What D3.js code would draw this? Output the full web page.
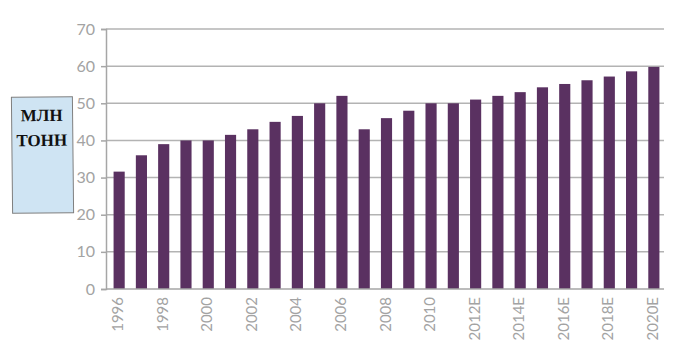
<!DOCTYPE html>
<html lang="ru">
<head>
<meta charset="utf-8">
<title>Млн тонн</title>
<style>
  body { margin: 0; background: #fff; }
  #chart { width: 674px; height: 353px; }
  .axis text { font-family: "Lato", "Open Sans", sans-serif; font-weight: 400; fill: #a3a3a3; }
</style>
</head>
<body>
<div id="chart"></div>
<script src="https://cdn.jsdelivr.net/npm/d3@7"></script>
<script>
// years (E = estimate)
const years = ["1996", "1997", "1998", "1999", "2000", "2001", "2002", "2003", "2004", "2005",
  "2006", "2007", "2008", "2009", "2010", "2011", "2012E", "2013E", "2014E", "2015E",
  "2016E", "2017E", "2018E", "2019E", "2020E"];
const values = [31.6, 36, 39, 40, 40, 41.5, 43, 45, 46.6, 50,
  52, 43, 46, 48, 50, 50, 51, 52, 53, 54.3,
  55.2, 56.2, 57.2, 58.6, 59.8];
const yTicks = [0, 10, 20, 30, 40, 50, 60, 70];
const unitLines = ["МЛН", "ТОНН"];

// set the dimensions
const width = 674, height = 353;
const plotLeft = 106, plotRight = 664, plotTop = 29, plotBottom = 289;

const svg = d3.select("#chart")
  .append("svg")
  .attr("width", width)
  .attr("height", height);

// X scale
const x = d3.scaleBand()
  .domain(years)
  .range([plotLeft + 2, plotRight + 1])
  .paddingInner(0.5)
  .paddingOuter(0.25);

// Y scale
const y = d3.scaleLinear()
  .domain([0, 70])
  .range([plotBottom, plotTop]);

// grid lines
svg.append("g")
  .selectAll("line")
  .data(yTicks.filter(d => d > 0))
  .enter()
  .append("line")
  .attr("x1", plotLeft)
  .attr("x2", plotRight)
  .attr("y1", d => y(d))
  .attr("y2", d => y(d))
  .attr("stroke", "#b3b3b3")
  .attr("stroke-width", 1.5);

// bars
svg.append("g")
  .selectAll("rect")
  .data(values)
  .enter()
  .append("rect")
  .attr("x", (d, i) => x(years[i]))
  .attr("width", x.bandwidth())
  .attr("y", d => y(d))
  .attr("height", d => y(0) - y(d))
  .attr("fill", "#5a3161");

// Y axis
const yAxis = svg.append("g")
  .attr("class", "axis")
  .attr("transform", "translate(" + plotLeft + ",0)")
  .call(d3.axisLeft(y).tickValues(yTicks).tickSize(5).tickPadding(6));
yAxis.select(".domain").attr("stroke", "#a6a6a6").attr("stroke-width", 1.5);
yAxis.selectAll(".tick line").attr("stroke", "#a6a6a6").attr("stroke-width", 1.5);
yAxis.selectAll("text").style("font-size", "16px");

// X axis
svg.append("line")
  .attr("x1", plotLeft)
  .attr("x2", plotRight)
  .attr("y1", y(0))
  .attr("y2", y(0))
  .attr("stroke", "#a6a6a6")
  .attr("stroke-width", 1.5);

svg.append("g")
  .attr("class", "axis")
  .selectAll("text")
  .data(years.filter((d, i) => i % 2 === 0))
  .enter()
  .append("text")
  .attr("transform", d => "translate(" + (x(d) + x.bandwidth() / 2 + 4) + "," + (y(0) + 8) + ") rotate(-90)")
  .attr("text-anchor", "end")
  .style("font-size", "15px")
  .text(d => d);

// unit box
const box = svg.append("g")
  .attr("transform", "rotate(-0.6, 42, 155)");

box.append("rect")
  .attr("x", 12)
  .attr("y", 97)
  .attr("width", 61)
  .attr("height", 116)
  .attr("fill", "#cfe4f3")
  .attr("stroke", "#7f7f7f")
  .attr("stroke-width", 1);

box.selectAll("text")
  .data(unitLines)
  .enter()
  .append("text")
  .attr("x", 42)
  .attr("y", (d, i) => 121 + i * 25)
  .attr("text-anchor", "middle")
  .style("font-family", "'Liberation Serif', 'DejaVu Serif', serif")
  .style("font-weight", "bold")
  .style("font-size", "17px")
  .attr("fill", "#111")
  .text(d => d);
</script>
</body>
</html>
